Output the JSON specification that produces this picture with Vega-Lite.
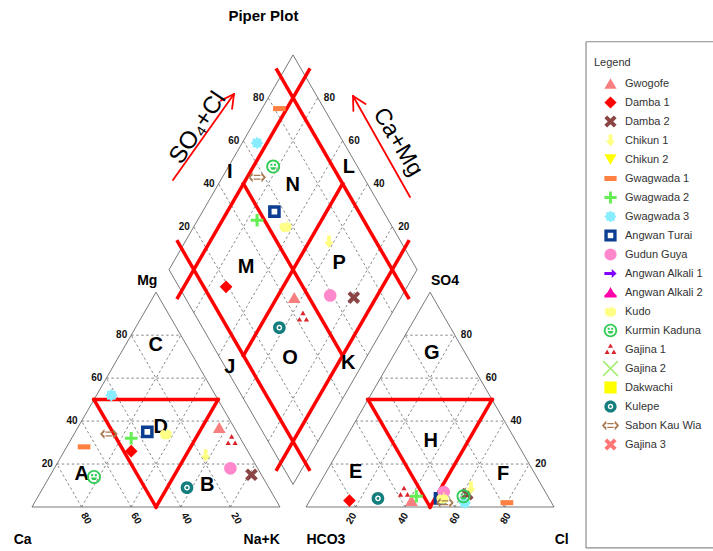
{
  "$schema": "https://vega.github.io/schema/vega-lite/v6.json",
  "width": 713,
  "height": 551,
  "autosize": {"type": "none"},
  "padding": 0,
  "background": "white",
  "config": {"view": {"stroke": null}, "font": "Liberation Sans"},
  "datasets": {
    "samples": [
      {"site": "Gwogofe", "Ca": 6, "Mg": 37, "NaK": 57, "HCO3": 56, "SO4": 3, "Cl": 41},
      {"site": "Damba 1", "Ca": 47, "Mg": 26, "NaK": 27, "HCO3": 81, "SO4": 3, "Cl": 16},
      {"site": "Damba 2", "Ca": 4, "Mg": 15, "NaK": 81, "HCO3": 32, "SO4": 6, "Cl": 62},
      {"site": "Chikun 1", "Ca": 18, "Mg": 24, "NaK": 58, "HCO3": 29, "SO4": 9, "Cl": 62},
      {"site": "Gwagwada 1", "Ca": 65, "Mg": 28, "NaK": 7, "HCO3": 18, "SO4": 2, "Cl": 80},
      {"site": "Gwagwada 2", "Ca": 44, "Mg": 32, "NaK": 24, "HCO3": 53, "SO4": 5, "Cl": 42},
      {"site": "Gwagwada 3", "Ca": 42, "Mg": 52, "NaK": 6, "HCO3": 35, "SO4": 2, "Cl": 63},
      {"site": "Angwan Turai", "Ca": 36, "Mg": 35, "NaK": 29, "HCO3": 44, "SO4": 4, "Cl": 52},
      {"site": "Gudun Guya", "Ca": 11, "Mg": 18, "NaK": 71, "HCO3": 41, "SO4": 7, "Cl": 52},
      {"site": "Kudo", "Ca": 29, "Mg": 34, "NaK": 37, "HCO3": 43, "SO4": 4, "Cl": 53},
      {"site": "Kurmin Kaduna", "Ca": 68, "Mg": 14, "NaK": 18, "HCO3": 34, "SO4": 5, "Cl": 61},
      {"site": "Gajina 1", "Ca": 4, "Mg": 31, "NaK": 65, "HCO3": 57, "SO4": 7, "Cl": 36},
      {"site": "Kulepe", "Ca": 33, "Mg": 9, "NaK": 58, "HCO3": 69, "SO4": 4, "Cl": 27},
      {"site": "Sabon Kau Wia", "Ca": 52, "Mg": 34, "NaK": 14, "HCO3": 43, "SO4": 2, "Cl": 55}
    ],
    "segments": [
      {"kind": "box", "x": 223.4, "y": 187.6, "x2": 290, "y2": 187.6},
      {"kind": "box", "x": 223.4, "y": 187.6, "x2": 223.4, "y2": -16.5},
      {"kind": "box", "x": 223.4, "y": -16.5, "x2": 290, "y2": -16.5},

      {"kind": "frame", "x": 0, "y": 0, "x2": 100, "y2": 0},
      {"kind": "frame", "x": 100, "y": 0, "x2": 50, "y2": 86.603},
      {"kind": "frame", "x": 50, "y": 86.603, "x2": 0, "y2": 0},
      {"kind": "frame", "x": 110.5, "y": 0, "x2": 210.5, "y2": 0},
      {"kind": "frame", "x": 210.5, "y": 0, "x2": 160.5, "y2": 86.603},
      {"kind": "frame", "x": 160.5, "y": 86.603, "x2": 110.5, "y2": 0},
      {"kind": "frame", "x": 105.25, "y": 9.093, "x2": 155.25, "y2": 95.696},
      {"kind": "frame", "x": 155.25, "y": 95.696, "x2": 105.25, "y2": 182.298},
      {"kind": "frame", "x": 105.25, "y": 182.298, "x2": 55.25, "y2": 95.696},
      {"kind": "frame", "x": 55.25, "y": 95.696, "x2": 105.25, "y2": 9.093},

      {"kind": "grid", "x": 10, "y": 17.321, "x2": 90, "y2": 17.321},
      {"kind": "grid", "x": 20, "y": 34.641, "x2": 80, "y2": 34.641},
      {"kind": "grid", "x": 30, "y": 51.962, "x2": 70, "y2": 51.962},
      {"kind": "grid", "x": 40, "y": 69.282, "x2": 60, "y2": 69.282},
      {"kind": "grid", "x": 20, "y": 0, "x2": 60, "y2": 69.282},
      {"kind": "grid", "x": 40, "y": 0, "x2": 70, "y2": 51.962},
      {"kind": "grid", "x": 60, "y": 0, "x2": 80, "y2": 34.641},
      {"kind": "grid", "x": 80, "y": 0, "x2": 90, "y2": 17.321},
      {"kind": "grid", "x": 80, "y": 0, "x2": 40, "y2": 69.282},
      {"kind": "grid", "x": 60, "y": 0, "x2": 30, "y2": 51.962},
      {"kind": "grid", "x": 40, "y": 0, "x2": 20, "y2": 34.641},
      {"kind": "grid", "x": 20, "y": 0, "x2": 10, "y2": 17.321},

      {"kind": "grid", "x": 120.5, "y": 17.321, "x2": 200.5, "y2": 17.321},
      {"kind": "grid", "x": 130.5, "y": 34.641, "x2": 190.5, "y2": 34.641},
      {"kind": "grid", "x": 140.5, "y": 51.962, "x2": 180.5, "y2": 51.962},
      {"kind": "grid", "x": 150.5, "y": 69.282, "x2": 170.5, "y2": 69.282},
      {"kind": "grid", "x": 130.5, "y": 0, "x2": 170.5, "y2": 69.282},
      {"kind": "grid", "x": 150.5, "y": 0, "x2": 180.5, "y2": 51.962},
      {"kind": "grid", "x": 170.5, "y": 0, "x2": 190.5, "y2": 34.641},
      {"kind": "grid", "x": 190.5, "y": 0, "x2": 200.5, "y2": 17.321},
      {"kind": "grid", "x": 190.5, "y": 0, "x2": 150.5, "y2": 69.282},
      {"kind": "grid", "x": 170.5, "y": 0, "x2": 140.5, "y2": 51.962},
      {"kind": "grid", "x": 150.5, "y": 0, "x2": 130.5, "y2": 34.641},
      {"kind": "grid", "x": 130.5, "y": 0, "x2": 120.5, "y2": 17.321},

      {"kind": "grid", "x": 115.25, "y": 26.414, "x2": 65.25, "y2": 113.017},
      {"kind": "grid", "x": 125.25, "y": 43.734, "x2": 75.25, "y2": 130.337},
      {"kind": "grid", "x": 135.25, "y": 61.055, "x2": 85.25, "y2": 147.658},
      {"kind": "grid", "x": 145.25, "y": 78.375, "x2": 95.25, "y2": 164.978},
      {"kind": "grid", "x": 95.25, "y": 26.414, "x2": 145.25, "y2": 113.017},
      {"kind": "grid", "x": 85.25, "y": 43.734, "x2": 135.25, "y2": 130.337},
      {"kind": "grid", "x": 75.25, "y": 61.055, "x2": 125.25, "y2": 147.658},
      {"kind": "grid", "x": 65.25, "y": 78.375, "x2": 115.25, "y2": 164.978},

      {"kind": "zone", "x": 25, "y": 43.301, "x2": 75, "y2": 43.301},
      {"kind": "zone", "x": 75, "y": 43.301, "x2": 50, "y2": 0},
      {"kind": "zone", "x": 50, "y": 0, "x2": 25, "y2": 43.301},
      {"kind": "zone", "x": 135.5, "y": 43.301, "x2": 185.5, "y2": 43.301},
      {"kind": "zone", "x": 185.5, "y": 43.301, "x2": 160.5, "y2": 0},
      {"kind": "zone", "x": 160.5, "y": 0, "x2": 135.5, "y2": 43.301},
      {"kind": "zone", "x": 111.75, "y": 15.155, "x2": 58.75, "y2": 106.954},
      {"kind": "zone", "x": 151.75, "y": 84.437, "x2": 98.75, "y2": 176.236},
      {"kind": "zone", "x": 98.75, "y": 15.155, "x2": 151.75, "y2": 106.954},
      {"kind": "zone", "x": 58.75, "y": 84.437, "x2": 111.75, "y2": 176.236},
      {"kind": "zone", "x": 125.25, "y": 61.055, "x2": 85.25, "y2": 130.337},
      {"kind": "zone", "x": 85.25, "y": 61.055, "x2": 125.25, "y2": 130.337},

      {"kind": "arrow", "x": 56.85, "y": 131.85, "x2": 81.45, "y2": 166.53},
      {"kind": "arrow", "x": 81.45, "y": 166.53, "x2": 80.68, "y2": 160.58},
      {"kind": "arrow", "x": 81.45, "y": 166.53, "x2": 76.09, "y2": 163.84},
      {"kind": "arrow", "x": 152.42, "y": 125.0, "x2": 129.44, "y2": 165.73},
      {"kind": "arrow", "x": 129.44, "y": 165.73, "x2": 134.49, "y2": 162.5},
      {"kind": "arrow", "x": 129.44, "y": 165.73, "x2": 129.59, "y2": 159.73}
    ],
    "labels": [
      {"kind": "zone", "x": 20, "y": 13.3, "text": "A"},
      {"kind": "zone", "x": 70.7, "y": 8.9, "text": "B"},
      {"kind": "zone", "x": 49.9, "y": 65.3, "text": "C"},
      {"kind": "zone", "x": 51.9, "y": 32.4, "text": "D"},
      {"kind": "zone", "x": 130.5, "y": 14.2, "text": "E"},
      {"kind": "zone", "x": 190, "y": 13.3, "text": "F"},
      {"kind": "zone", "x": 161.2, "y": 62, "text": "G"},
      {"kind": "zone", "x": 160.8, "y": 26.7, "text": "H"},
      {"kind": "zone", "x": 79.8, "y": 135.2, "text": "I"},
      {"kind": "zone", "x": 79.8, "y": 56.6, "text": "J"},
      {"kind": "zone", "x": 127.5, "y": 57.9, "text": "K"},
      {"kind": "zone", "x": 127.8, "y": 137.2, "text": "L"},
      {"kind": "zone", "x": 86.3, "y": 96.9, "text": "M"},
      {"kind": "zone", "x": 105.1, "y": 129.8, "text": "N"},
      {"kind": "zone", "x": 104, "y": 60.1, "text": "O"},
      {"kind": "zone", "x": 123.9, "y": 98.3, "text": "P"},

      {"kind": "corner", "x": 46.5, "y": 91.3, "text": "Mg"},
      {"kind": "corner", "x": 166.5, "y": 91.3, "text": "SO4"},
      {"kind": "corner", "x": -3.75, "y": -13.3, "text": "Ca"},
      {"kind": "corner", "x": 92.6, "y": -13.3, "text": "Na+K"},
      {"kind": "corner", "x": 118.5, "y": -13.3, "text": "HCO3"},
      {"kind": "corner", "x": 213.6, "y": -13.3, "text": "Cl"},

      {"kind": "tickL", "x": 10, "y": 17.321, "text": "20"},
      {"kind": "tickL", "x": 20, "y": 34.641, "text": "40"},
      {"kind": "tickL", "x": 30, "y": 51.962, "text": "60"},
      {"kind": "tickL", "x": 40, "y": 69.282, "text": "80"},
      {"kind": "tickL", "x": 65.25, "y": 113.017, "text": "20"},
      {"kind": "tickL", "x": 75.25, "y": 130.337, "text": "40"},
      {"kind": "tickL", "x": 85.25, "y": 147.658, "text": "60"},
      {"kind": "tickL", "x": 95.25, "y": 164.978, "text": "80"},
      {"kind": "tickR", "x": 200.5, "y": 17.321, "text": "20"},
      {"kind": "tickR", "x": 190.5, "y": 34.641, "text": "40"},
      {"kind": "tickR", "x": 180.5, "y": 51.962, "text": "60"},
      {"kind": "tickR", "x": 170.5, "y": 69.282, "text": "80"},
      {"kind": "tickR", "x": 145.25, "y": 113.017, "text": "20"},
      {"kind": "tickR", "x": 135.25, "y": 130.337, "text": "40"},
      {"kind": "tickR", "x": 125.25, "y": 147.658, "text": "60"},
      {"kind": "tickR", "x": 115.25, "y": 164.978, "text": "80"},
      {"kind": "tickCa", "x": 21.8, "y": -4.6, "text": "80"},
      {"kind": "tickCa", "x": 42, "y": -4.6, "text": "60"},
      {"kind": "tickCa", "x": 62.2, "y": -4.6, "text": "40"},
      {"kind": "tickCa", "x": 82.4, "y": -4.6, "text": "20"},
      {"kind": "tickCl", "x": 128.8, "y": -4.6, "text": "20"},
      {"kind": "tickCl", "x": 149.7, "y": -4.6, "text": "40"},
      {"kind": "tickCl", "x": 170.5, "y": -4.6, "text": "60"},
      {"kind": "tickCl", "x": 191, "y": -4.6, "text": "80"},

      {"kind": "title", "x": 93.3, "y": 198.1, "text": "Piper Plot"},
      {"kind": "anionArrow", "x": 66.9, "y": 152.8, "text": "SO₄+Cl"},
      {"kind": "cationArrow", "x": 147.6, "y": 147.2, "text": "Ca+Mg"}
    ]
  },
  "encoding": {
    "x": {"field": "x", "type": "quantitative", "scale": {"domain": [-12.903, 274.597], "nice": false, "zero": false}, "axis": null},
    "y": {"field": "y", "type": "quantitative", "scale": {"domain": [-17.742, 204.435], "nice": false, "zero": false}, "axis": null}
  },
  "layer": [
    {
      "data": {"name": "segments"},
      "transform": [{"filter": "datum.kind === 'box'"}],
      "mark": {"type": "rule", "color": "#8c8c8c", "strokeWidth": 1.2},
      "encoding": {"x2": {"field": "x2"}, "y2": {"field": "y2"}}
    },
    {
      "data": {"name": "segments"},
      "transform": [{"filter": "datum.kind === 'grid'"}],
      "mark": {"type": "rule", "color": "#555555", "strokeWidth": 0.7, "strokeDash": [2.5, 2.5]},
      "encoding": {"x2": {"field": "x2"}, "y2": {"field": "y2"}}
    },
    {
      "data": {"name": "segments"},
      "transform": [{"filter": "datum.kind === 'frame'"}],
      "mark": {"type": "rule", "color": "#555555", "strokeWidth": 0.8},
      "encoding": {"x2": {"field": "x2"}, "y2": {"field": "y2"}}
    },
    {
      "data": {"name": "segments"},
      "transform": [{"filter": "datum.kind === 'zone'"}],
      "mark": {"type": "rule", "color": "#ff0000", "strokeWidth": 3.5, "strokeCap": "square"},
      "encoding": {"x2": {"field": "x2"}, "y2": {"field": "y2"}}
    },
    {
      "data": {"name": "segments"},
      "transform": [{"filter": "datum.kind === 'arrow'"}],
      "mark": {"type": "rule", "color": "#ff0000", "strokeWidth": 1.8, "strokeCap": "round"},
      "encoding": {"x2": {"field": "x2"}, "y2": {"field": "y2"}}
    },
    {
      "data": {"name": "labels"},
      "transform": [{"filter": "datum.kind === 'zone'"}],
      "mark": {"type": "text", "fontSize": 20, "fontWeight": "bold", "color": "#000000", "align": "center", "baseline": "middle"},
      "encoding": {"text": {"field": "text"}}
    },
    {
      "data": {"name": "labels"},
      "transform": [{"filter": "datum.kind === 'corner'"}],
      "mark": {"type": "text", "fontSize": 14, "fontWeight": "bold", "color": "#000000", "align": "center", "baseline": "middle"},
      "encoding": {"text": {"field": "text"}}
    },
    {
      "data": {"name": "labels"},
      "transform": [{"filter": "datum.kind === 'title'"}],
      "mark": {"type": "text", "fontSize": 15, "fontWeight": "bold", "color": "#000000", "align": "center", "baseline": "middle"},
      "encoding": {"text": {"field": "text"}}
    },
    {
      "data": {"name": "labels"},
      "transform": [{"filter": "datum.kind === 'tickL'"}],
      "mark": {"type": "text", "fontSize": 10, "fontWeight": "bold", "color": "#111111", "align": "right", "baseline": "middle", "dx": -4},
      "encoding": {"text": {"field": "text"}}
    },
    {
      "data": {"name": "labels"},
      "transform": [{"filter": "datum.kind === 'tickR'"}],
      "mark": {"type": "text", "fontSize": 10, "fontWeight": "bold", "color": "#111111", "align": "left", "baseline": "middle", "dx": 6},
      "encoding": {"text": {"field": "text"}}
    },
    {
      "data": {"name": "labels"},
      "transform": [{"filter": "datum.kind === 'tickCa'"}],
      "mark": {"type": "text", "fontSize": 10, "fontWeight": "bold", "color": "#111111", "align": "center", "baseline": "middle", "angle": 60},
      "encoding": {"text": {"field": "text"}}
    },
    {
      "data": {"name": "labels"},
      "transform": [{"filter": "datum.kind === 'tickCl'"}],
      "mark": {"type": "text", "fontSize": 10, "fontWeight": "bold", "color": "#111111", "align": "center", "baseline": "middle", "angle": -60},
      "encoding": {"text": {"field": "text"}}
    },
    {
      "data": {"name": "labels"},
      "transform": [{"filter": "datum.kind === 'anionArrow'"}],
      "mark": {"type": "text", "fontSize": 24, "color": "#000000", "align": "center", "baseline": "middle", "angle": -56},
      "encoding": {"text": {"field": "text"}}
    },
    {
      "data": {"name": "labels"},
      "transform": [{"filter": "datum.kind === 'cationArrow'"}],
      "mark": {"type": "text", "fontSize": 23, "color": "#000000", "align": "center", "baseline": "middle", "angle": 59},
      "encoding": {"text": {"field": "text"}}
    },
    {
      "data": {"name": "samples"},
      "transform": [
        {"calculate": "datum.NaK + datum.Mg / 2", "as": "x"},
        {"calculate": "datum.Mg * 0.8660254", "as": "y"}
      ],
      "mark": {"type": "point", "filled": true, "size": 160, "opacity": 1, "strokeWidth": 0},
      "encoding": {
        "color": {"field": "site", "type": "nominal",
          "scale": {"domain": ["Gwogofe", "Damba 1", "Damba 2", "Chikun 1", "Chikun 2", "Gwagwada 1", "Gwagwada 2", "Gwagwada 3", "Angwan Turai", "Gudun Guya", "Angwan Alkali 1", "Angwan Alkali 2", "Kudo", "Kurmin Kaduna", "Gajina 1", "Gajina 2", "Dakwachi", "Kulepe", "Sabon Kau Wia", "Gajina 3"],
            "range": ["#f77f7f", "#ff0000", "#8b4545", "#ffff80", "#ffff00", "#ff8040", "#66ee55", "#88eeff", "#0b3d91", "#ff88cc", "#8000ff", "#ff00aa", "#ffff88", "#33cc55", "#d8262c", "#aaee77", "#ffff00", "#147d7d", "#a87850", "#ff7777"]},
          "legend": {"title": "Legend", "orient": "none", "legendX": 594, "legendY": 57, "padding": 0, "titleFontSize": 11, "titleFontWeight": "normal", "titleColor": "#333333", "titlePadding": 6, "labelFontSize": 11, "labelColor": "#333333", "symbolSize": 150, "symbolStrokeWidth": 0, "symbolOffset": 10, "labelOffset": 8, "clipHeight": 19, "rowPadding": 0, "labelLimit": 200, "symbolLimit": 0}},
        "shape": {"field": "site", "type": "nominal",
          "scale": {"domain": ["Gwogofe", "Damba 1", "Damba 2", "Chikun 1", "Chikun 2", "Gwagwada 1", "Gwagwada 2", "Gwagwada 3", "Angwan Turai", "Gudun Guya", "Angwan Alkali 1", "Angwan Alkali 2", "Kudo", "Kurmin Kaduna", "Gajina 1", "Gajina 2", "Dakwachi", "Kulepe", "Sabon Kau Wia", "Gajina 3"],
            "range": [
              "triangle-up",
              "diamond",
              "M-1,-0.55L-0.55,-1L0,-0.45L0.55,-1L1,-0.55L0.45,0L1,0.55L0.55,1L0,0.45L-0.55,1L-1,0.55L-0.45,0Z",
              "M-0.3,-1L0.3,-1L0.3,0L0.75,0L0,1L-0.75,0L-0.3,0Z",
              "triangle-down",
              "M-1,-0.4L1,-0.4L1,0.4L-1,0.4Z",
              "M-0.24,-1L0.24,-1L0.24,-0.24L1,-0.24L1,0.24L0.24,0.24L0.24,1L-0.24,1L-0.24,0.24L-1,0.24L-1,-0.24L-0.24,-0.24Z",
              "M0,-1L0.28,-0.68L0.7071,-0.7071L0.68,-0.28L1,0L0.68,0.28L0.7071,0.7071L0.28,0.68L0,1L-0.28,0.68L-0.7071,0.7071L-0.68,0.28L-1,0L-0.68,-0.28L-0.7071,-0.7071L-0.28,-0.68Z",
              "M-1,-1L1,-1L1,1L-1,1Z M-0.45,-0.45L-0.45,0.45L0.45,0.45L0.45,-0.45Z",
              "circle",
              "M-1,-0.25L0.2,-0.25L0.2,-0.75L1,0L0.2,0.75L0.2,0.25L-1,0.25Z",
              "M0,-0.9L0.45,-0.1L1,0.5L1,0.8L-1,0.8L-1,0.5L-0.45,-0.1Z",
              "M0,-0.45C0.45,-0.85 1,-0.55 0.95,0.05C0.9,0.65 0.45,1 0,0.8C-0.45,1 -0.9,0.65 -0.95,0.05C-1,-0.55 -0.45,-0.85 0,-0.45Z M-0.05,-0.5L0.25,-1L0.4,-0.92L0.1,-0.45Z",
              "M0,-1.1A1.1,1.1,0,1,1,0,1.1A1.1,1.1,0,1,1,0,-1.1Z M0,-0.8A0.8,0.8,0,1,0,0,0.8A0.8,0.8,0,1,0,0,-0.8Z M-0.45,-0.45L-0.12,-0.45L-0.12,-0.12L-0.45,-0.12Z M0.12,-0.45L0.45,-0.45L0.45,-0.12L0.12,-0.12Z M-0.5,0.1L0.5,0.1L0.28,0.5L-0.28,0.5Z",
              "M0,-1L0.42,-0.28L-0.42,-0.28Z M-0.55,0.02L-0.13,0.74L-0.97,0.74Z M0.55,0.02L0.97,0.74L0.13,0.74Z",
              "M-1.3,-1.1L-1.1,-1.3L0,-0.2L1.1,-1.3L1.3,-1.1L0.2,0L1.3,1.1L1.1,1.3L0,0.2L-1.1,1.3L-1.3,1.1L-0.2,0Z",
              "square",
              "M0,-1A1,1,0,1,1,0,1A1,1,0,1,1,0,-1Z M0,-0.45A0.45,0.45,0,1,0,0,0.45A0.45,0.45,0,1,0,0,-0.45Z M0,-0.22A0.22,0.22,0,1,1,0,0.22A0.22,0.22,0,1,1,0,-0.22Z",
              "M-1.4,0L-0.7,-0.8L-0.7,-0.4L0.7,-0.4L0.7,-0.8L1.4,0L0.7,0.8L0.7,0.4L-0.7,0.4L-0.7,0.8Z M-1.05,0L-0.52,0.45L-0.52,0.2L0.52,0.2L0.52,0.45L1.05,0L0.52,-0.45L0.52,-0.2L-0.52,-0.2L-0.52,-0.45Z",
              "M-1,-0.55L-0.55,-1L0,-0.45L0.55,-1L1,-0.55L0.45,0L1,0.55L0.55,1L0,0.45L-0.55,1L-1,0.55L-0.45,0Z"
            ]},
          "legend": {"title": "Legend", "orient": "none", "legendX": 594, "legendY": 57, "padding": 0, "titleFontSize": 11, "titleFontWeight": "normal", "titleColor": "#333333", "titlePadding": 6, "labelFontSize": 11, "labelColor": "#333333", "symbolSize": 150, "symbolStrokeWidth": 0, "symbolOffset": 10, "labelOffset": 8, "clipHeight": 19, "rowPadding": 0, "labelLimit": 200, "symbolLimit": 0}}
      }
    },
    {
      "data": {"name": "samples"},
      "transform": [
        {"calculate": "110.5 + datum.Cl + datum.SO4 / 2", "as": "x"},
        {"calculate": "datum.SO4 * 0.8660254", "as": "y"}
      ],
      "mark": {"type": "point", "filled": true, "size": 160, "opacity": 1, "strokeWidth": 0},
      "encoding": {
        "color": {"field": "site", "type": "nominal"},
        "shape": {"field": "site", "type": "nominal"}
      }
    },
    {
      "data": {"name": "samples"},
      "transform": [
        {"calculate": "105.25 + 0.5 * ((datum.SO4 + datum.Cl) - (datum.Ca + datum.Mg))", "as": "x"},
        {"calculate": "9.0933 + 0.8660254 * ((datum.SO4 + datum.Cl) + (datum.Ca + datum.Mg))", "as": "y"}
      ],
      "mark": {"type": "point", "filled": true, "size": 160, "opacity": 1, "strokeWidth": 0},
      "encoding": {
        "color": {"field": "site", "type": "nominal"},
        "shape": {"field": "site", "type": "nominal"}
      }
    }
  ]
}
